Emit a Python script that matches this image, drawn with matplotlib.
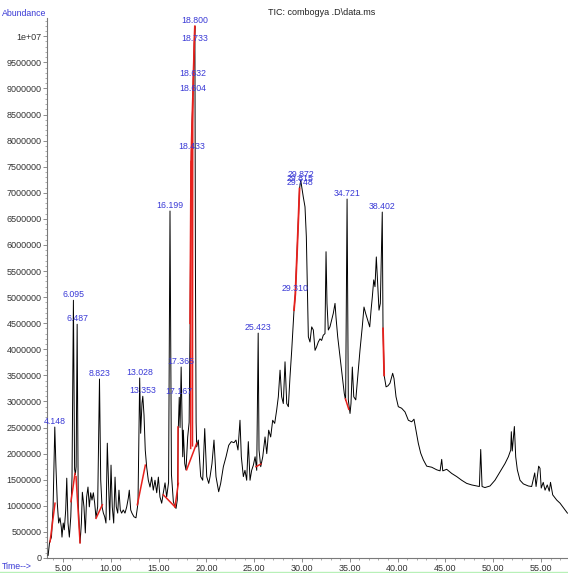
import numpy as np
import matplotlib
matplotlib.use("Agg")
import matplotlib.pyplot as plt
from matplotlib.ticker import MultipleLocator, FuncFormatter
from matplotlib.lines import Line2D

plt.rcParams['font.family'] = ['Liberation Sans', 'DejaVu Sans']

# TIC trace: retention time (min) and abundance (millions of counts)
trace_time = [
    3.45, 3.60, 3.80, 3.97, 4.148, 4.27, 4.41, 4.55, 4.69, 4.83, 4.90, 5.03, 5.14, 5.29, 5.40,
    5.53, 5.67, 5.82, 5.95, 6.095, 6.22, 6.30, 6.38, 6.487, 6.60, 6.79, 6.93, 7.03, 7.20, 7.34,
    7.48, 7.62, 7.76, 7.90, 8.04, 8.18, 8.32, 8.46, 8.63, 8.823, 8.95, 9.09, 9.23, 9.37, 9.50,
    9.64, 9.79, 9.89, 10.03, 10.16, 10.31, 10.45, 10.58, 10.73, 10.86, 11.00, 11.14, 11.31, 11.49,
    11.67, 11.84, 11.94, 12.09, 12.22, 12.43, 12.64, 12.85, 13.028, 13.13, 13.27, 13.353, 13.48,
    13.61, 13.76, 13.93, 14.11, 14.28, 14.45, 14.63, 14.81, 14.98, 15.15, 15.33, 15.50, 15.68,
    15.85, 16.05, 16.199, 16.35, 16.55, 16.72, 16.83, 16.96, 17.07, 17.167, 17.25, 17.365, 17.53,
    17.59, 17.74, 17.87, 18.05, 18.20, 18.30, 18.38, 18.433, 18.52, 18.604, 18.632, 18.69, 18.733,
    18.800, 18.86, 18.93, 18.99, 19.16, 19.41, 19.62, 19.83, 20.04, 20.25, 20.39, 20.59, 20.80,
    21.01, 21.29, 21.50, 21.78, 22.06, 22.34, 22.61, 22.89, 23.10, 23.31, 23.52, 23.66, 23.87,
    24.04, 24.22, 24.39, 24.57, 24.74, 24.92, 25.10, 25.27, 25.423, 25.51, 25.69, 25.90, 26.14,
    26.32, 26.52, 26.73, 26.94, 27.15, 27.36, 27.53, 27.71, 27.88, 28.05, 28.23, 28.41, 28.58,
    28.75, 28.93, 29.17, 29.310, 29.50, 29.65, 29.748, 29.815, 29.872, 30.14, 30.32, 30.46, 30.56,
    30.67, 30.84, 31.02, 31.19, 31.37, 31.54, 31.71, 31.89, 32.06, 32.23, 32.41, 32.52, 32.62,
    32.76, 32.93, 33.11, 33.28, 33.46, 33.56, 33.74, 33.98, 34.22, 34.43, 34.57, 34.721, 34.85,
    35.03, 35.13, 35.27, 35.42, 35.63, 35.83, 36.07, 36.31, 36.49, 36.66, 36.88, 37.09, 37.23,
    37.36, 37.51, 37.64, 37.78, 37.92, 38.06, 38.20, 38.402, 38.48, 38.60, 38.80, 39.00, 39.21,
    39.49, 39.63, 39.84, 40.08, 40.43, 40.78, 41.13, 41.48, 41.72, 41.93, 42.17, 42.42, 42.70,
    43.05, 43.57, 44.10, 44.45, 44.62, 44.73, 45.14, 45.67, 46.19, 46.71, 47.23, 47.76, 48.28,
    48.56, 48.70, 48.84, 49.14, 49.67, 50.19, 50.72, 51.24, 51.59, 51.84, 51.90, 52.00, 52.22,
    52.36, 52.53, 52.81, 53.16, 53.68, 54.03, 54.35, 54.49, 54.76, 54.90, 55.03, 55.24, 55.43,
    55.66, 55.87, 56.00, 56.23, 56.65, 57.00, 57.52, 57.77,
]
trace_abund_m = [
    0.05, 0.30, 0.40, 0.98, 2.51, 1.74, 1.05, 0.67, 0.77, 0.59, 0.40, 0.67, 0.54, 0.92, 1.53,
    0.67, 0.40, 0.79, 1.55, 4.94, 1.70, 1.60, 1.75, 4.48, 1.05, 0.29, 0.67, 1.26, 0.98, 0.48,
    1.17, 1.36, 0.98, 1.25, 1.11, 1.25, 1.05, 0.77, 0.98, 3.43, 1.50, 0.98, 0.86, 0.79, 0.67,
    2.20, 1.30, 0.73, 1.78, 0.98, 0.67, 1.55, 0.98, 0.86, 1.30, 0.92, 0.86, 0.92, 0.86,
    0.98, 1.15, 1.30, 0.92, 0.86, 0.79, 0.77, 1.05, 3.45, 2.39, 2.97, 3.10, 2.74,
    2.07, 1.74, 1.49, 1.36, 1.55, 1.30, 1.49, 1.25, 1.55, 1.17, 1.05, 1.25, 1.44,
    1.17, 1.45, 6.65, 1.60, 1.08, 0.98, 0.95, 1.11, 2.50, 3.08, 2.50, 3.66, 1.94,
    2.45, 1.81, 1.69, 2.32, 2.60, 4.50, 6.80, 7.78, 8.40, 8.89, 9.18, 9.50, 9.85,
    10.19, 5.50, 2.60, 2.13, 2.26, 1.56, 1.49, 2.48, 1.56, 1.43, 1.56, 1.81, 2.26,
    1.56, 1.27, 1.43, 1.75, 1.94, 2.16, 2.23, 2.21, 2.26, 2.07, 2.64, 1.94, 1.56,
    1.68, 1.49, 2.23, 1.49, 1.68, 1.78, 1.94, 1.68, 4.31, 2.07, 1.75, 1.94, 2.32,
    2.00, 2.45, 2.32, 2.64, 2.58, 2.84, 3.09, 3.60, 3.09, 2.96, 3.76, 2.96, 2.90,
    3.47, 3.98, 4.75, 5.06, 5.90, 6.60, 7.08, 7.16, 7.24, 6.92, 6.73, 6.16, 5.20,
    4.24, 4.14, 4.43, 4.37, 3.98, 4.05, 4.14, 4.20, 4.17, 4.27, 4.30, 5.87, 4.88,
    4.37, 4.43, 4.56, 4.69, 4.88, 4.62, 4.24, 3.86, 3.47, 3.15, 3.02, 6.88, 3.03,
    2.77, 2.96, 3.66, 3.09, 3.03, 3.47, 3.98, 4.43, 4.81, 4.69, 4.56, 4.43, 4.75,
    5.00, 5.33, 5.20, 5.77, 5.26, 4.75, 4.88, 6.63, 4.40, 3.50, 3.28, 3.30, 3.35,
    3.54, 3.44, 3.09, 2.90, 2.87, 2.80, 2.64, 2.61, 2.66, 2.45, 2.20, 2.01, 1.88,
    1.76, 1.74, 1.69, 1.67, 1.89, 1.67, 1.70, 1.62, 1.56, 1.49, 1.43, 1.40, 1.38,
    1.37, 2.08, 1.37, 1.35, 1.38, 1.49, 1.65, 1.81, 1.94, 2.07, 2.42, 2.05, 2.52,
    1.94, 1.69, 1.49, 1.42, 1.38, 1.37, 1.63, 1.37, 1.76, 1.72, 1.34, 1.45, 1.30,
    1.40, 1.28, 1.45, 1.21, 1.11, 1.05, 0.92, 0.86,
]

# integrated peaks (retention times that get a label)
peak_rt = [4.148, 6.095, 6.487, 8.823, 13.028, 13.353, 16.199, 17.167, 17.365,
           18.433, 18.604, 18.632, 18.733, 18.800, 25.423, 29.310, 29.748, 29.815,
           29.872, 34.721, 38.402]

# integration baselines, (start rt, start abund M) -> (end rt, end abund M)
baselines = [
    ((3.65, 0.31), (4.17, 1.05)),
    ((5.84, 1.08), (6.26, 1.62)),
    ((6.37, 1.56), (6.79, 0.29)),
    ((8.46, 0.76), (9.12, 1.02)),
    ((12.78, 1.02), (13.62, 1.78)),
    ((15.50, 1.21), (16.72, 0.98)),
    ((16.72, 0.98), (17.07, 1.43)),
    ((17.07, 1.43), (17.07, 2.52)),
    ((17.94, 1.69), (18.99, 2.20)),
    ((18.36, 2.10), (18.40, 7.60)),
    ((18.55, 2.15), (18.58, 8.80)),
    ((25.20, 1.75), (25.70, 1.80)),
    ((34.55, 3.05), (34.90, 2.85)),
]
# stretches of the trace drawn in red (peak start/end flanks)
red_spans = [(18.25, 18.80), (28.95, 29.80), (38.46, 38.62)]

t = np.array(trace_time)
y = np.array(trace_abund_m) * 1e6

fig = plt.figure(figsize=(5.68, 5.73), dpi=100)
ax = fig.add_axes([0.0827, 0.0262, 0.9173, 0.9424])

blue = '#3a3ad6'
red = '#e8201c'
ax.plot(t, y, color='black', lw=0.7, zorder=3)
for (t0, v0), (t1, v1) in baselines:
    ax.plot([t0, t1], [v0 * 1e6, v1 * 1e6], color=red, lw=1.1, zorder=4)
for a, b in red_spans:
    m = (t >= a) & (t <= b)
    ax.plot(t[m], y[m], color=red, lw=1.3, zorder=4)

for rt in peak_rt:
    v = np.interp(rt, t, y)
    ax.annotate('%.3f' % rt, (rt, v), xytext=(0, 1), textcoords='offset points',
                ha='center', va='bottom', fontsize=6.3, color=blue, zorder=5)

ax.set_xlim(3.33, 57.83)
ax.set_ylim(0, 1.035e7)

for s in ['top', 'right']:
    ax.spines[s].set_visible(False)
for s in ['left', 'bottom']:
    ax.spines[s].set_color('#7a7a7a')
    ax.spines[s].set_linewidth(0.8)

ax.xaxis.set_major_locator(MultipleLocator(5))
ax.xaxis.set_minor_locator(MultipleLocator(1))
ax.yaxis.set_major_locator(MultipleLocator(500000))
ax.yaxis.set_minor_locator(MultipleLocator(100000))
ax.xaxis.set_major_formatter(FuncFormatter(lambda v, p: '%.2f' % v))
ax.yaxis.set_major_formatter(FuncFormatter(lambda v, p: '1e+07' if v >= 1e7 else '%d' % v))
ax.tick_params(axis='both', which='major', labelsize=6.5, length=3, width=0.6,
               colors='#7a7a7a', labelcolor='#333333', pad=1)
ax.tick_params(axis='both', which='minor', length=1.5, width=0.5, colors='#8a8a8a')

fig.text(0.567, 0.979, r'TIC: combogya .D\data.ms', ha='center', va='center',
         fontsize=6.5, color='#222222')
fig.text(0.004, 0.977, 'Abundance', ha='left', va='center', fontsize=6.3, color=blue)
fig.text(0.004, 0.012, 'Time-->', ha='left', va='center', fontsize=6.3, color=blue)
fig.add_artist(Line2D([0, 1], [0.002, 0.002], transform=fig.transFigure,
                      color='#b8f0b8', lw=1))

fig.savefig('out.png', dpi=100)
